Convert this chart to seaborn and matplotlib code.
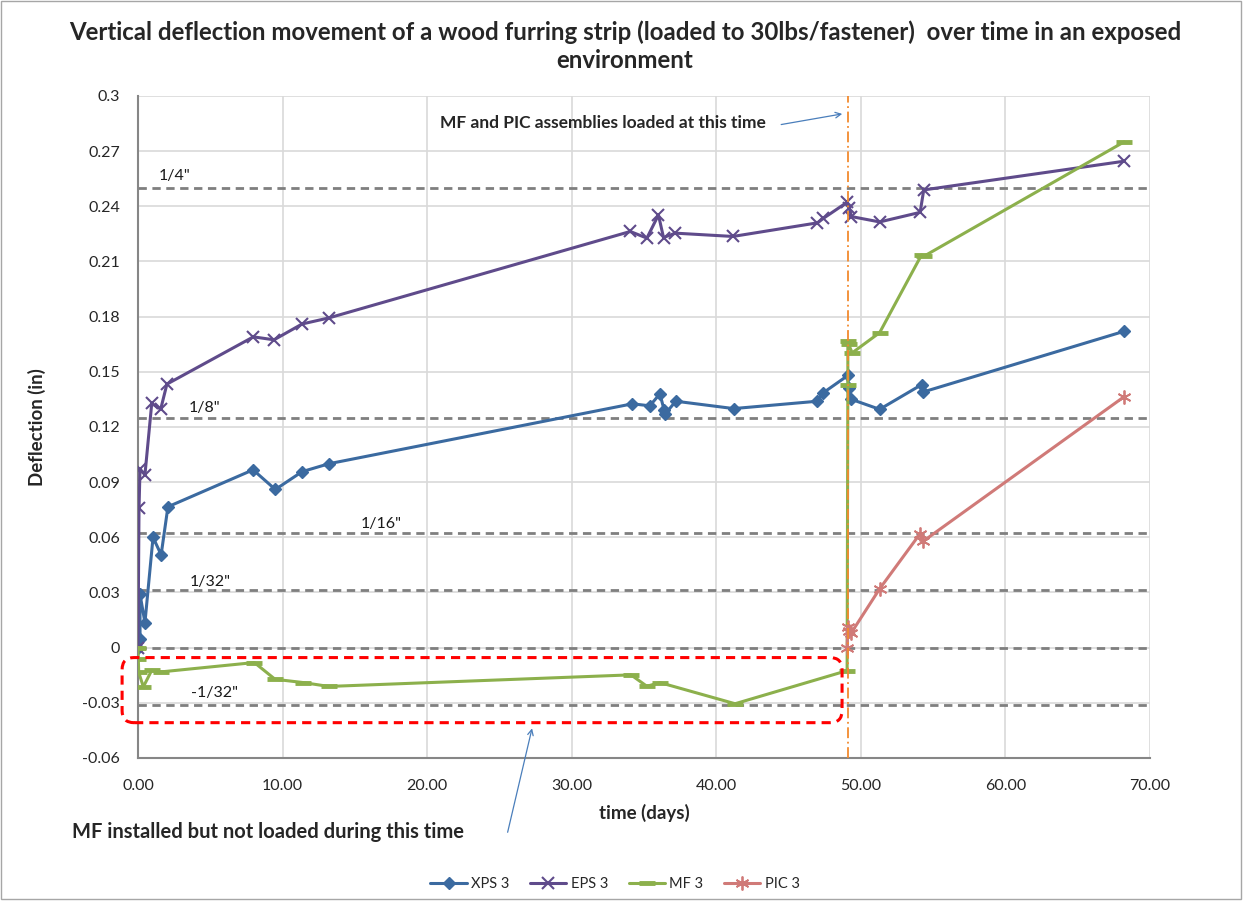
import numpy as np
import pandas as pd
import seaborn as sns
import matplotlib.pyplot as plt
from matplotlib.patches import FancyBboxPatch, Rectangle
from matplotlib.transforms import IdentityTransform
from matplotlib.ticker import MultipleLocator, FuncFormatter

# Data (time in days, deflection in inches)
xps_days = [0, 0.14, 0.14, 0.48, 1.04, 1.6, 2.07, 7.96, 9.5, 11.35, 13.2, 34.2, 35.4, 36.1,
            36.4, 36.45, 37.2, 41.2, 47.0, 47.4, 49.1, 49.15, 49.35, 51.3, 54.2, 54.3, 68.2]
xps_defl = [0, 0.0049, 0.029, 0.0136, 0.060, 0.0505, 0.0766, 0.0967, 0.086, 0.0957, 0.100,
            0.1326, 0.1315, 0.138, 0.129, 0.127, 0.134, 0.130, 0.134, 0.1386, 0.148, 0.141,
            0.135, 0.1296, 0.143, 0.139, 0.172]

eps_days = [0, 0.07, 0.14, 0.48, 0.95, 1.57, 2.0, 7.98, 9.41, 11.35, 13.2, 34.05, 35.2, 36.0,
            36.35, 37.16, 41.15, 47.0, 47.4, 49.05, 49.2, 49.35, 51.3, 54.1, 54.35, 68.2]
eps_defl = [0, 0.0757, 0.0971, 0.094, 0.1328, 0.1297, 0.1433, 0.169, 0.1674, 0.176, 0.1793,
            0.2263, 0.2227, 0.2353, 0.223, 0.2254, 0.2236, 0.231, 0.2334, 0.2422, 0.239,
            0.2344, 0.2315, 0.2367, 0.2489, 0.2645]

mf_days = [0, 0.02, 0.05, 0.37, 0.95, 1.57, 8.05, 9.48, 11.44, 13.2, 34.1, 35.2, 36.1, 41.3,
           49.05, 49.1, 49.1, 49.15, 49.4, 51.3, 54.2, 54.4, 68.2]
mf_defl = [0, -0.006, -0.0135, -0.0213, -0.0123, -0.0132, -0.0081, -0.0172, -0.019, -0.0211,
           -0.0148, -0.021, -0.019, -0.0305, -0.0125, 0.143, 0.167, 0.165, 0.1603, 0.1713,
           0.2136, 0.213, 0.275]

pic_days = [49.05, 49.1, 49.2, 49.35, 51.3, 54.1, 54.3, 68.2]
pic_defl = [0.0, 0.0114, 0.0092, 0.0082, 0.032, 0.062, 0.0578, 0.1364]

# fraction-of-inch reference lines
ref_values = [0.25, 0.125, 0.0625, 0.03125, 0, -0.03125]
ref_labels = ['1/4"', '1/8"', '1/16"', '1/32"', '', '-1/32"']
ref_label_x = [2.5, 4.6, 16.8, 5.0, 0, 5.3]
ref_label_y = [0.2565, 0.1304, 0.0675, 0.0355, 0, -0.0245]

load_day = 49.1

sns.set_style('white')
plt.rcParams['font.family'] = ['Lato', 'DejaVu Sans']

fig = plt.figure(figsize=(12.5, 9.07), dpi=100)
ax = fig.add_axes([0.1104, 0.1643, 0.8096, 0.7299])

series = [
    ('XPS 3', xps_days, xps_defl, '#3b6aa0', 'D', 6, 1),
    ('EPS 3', eps_days, eps_defl, '#5f4b8b', 'x', 8, 1.5),
    ('MF 3', mf_days, mf_defl, '#8cb04c', '_', 11, 3.5),
    ('PIC 3', pic_days, pic_defl, '#d07a78', (6, 2, 0), 10, 1.3),
]

# reference lines behind the data
for v in ref_values:
    ax.axhline(v, color='#7f7f7f', ls=(0, (3, 2)), lw=2, zorder=1)
for lab, lx, ly in zip(ref_labels, ref_label_x, ref_label_y):
    if lab:
        ax.text(lx, ly, lab, ha='center', va='center', fontsize=11.5, color='#1a1a1a')

for name, d, v, col, mk, ms, mew in series:
    df = pd.DataFrame({'time': d, 'defl': v})
    sns.lineplot(data=df, x='time', y='defl', sort=False, estimator=None, ax=ax,
                 color=col, marker=mk, markersize=ms, markeredgewidth=mew,
                 markeredgecolor=col, lw=2.2, label=name, zorder=3)

ax.axvline(load_day, color='#f28a2e', ls=(0, (6, 2, 1, 2)), lw=1.3, zorder=4)

ax.set_xlim(0, 70)
ax.set_ylim(-0.06, 0.3)
ax.xaxis.set_major_locator(MultipleLocator(10))
ax.yaxis.set_major_locator(MultipleLocator(0.03))
ax.xaxis.set_major_formatter(FuncFormatter(lambda v, _: f"{v:.2f}"))
ax.yaxis.set_major_formatter(FuncFormatter(lambda v, _: f"{round(v, 2) + 0:g}"))
ax.grid(True, color='#d9d9d9', lw=1.2)
ax.set_axisbelow(True)
for s in ['top', 'right']:
    ax.spines[s].set_visible(False)
ax.spines['left'].set_color('#868686')
ax.spines['bottom'].set_color('#868686')
ax.spines['left'].set_linewidth(1.5)
ax.spines['bottom'].set_linewidth(1.5)
ax.tick_params(axis='y', direction='out', length=5, color='#868686', labelsize=11.5, pad=8)
ax.tick_params(axis='x', direction='out', length=0, labelsize=11.5, pad=15)

ax.set_xlabel('time (days)', fontsize=13.5, fontweight='bold', labelpad=8)
ax.set_ylabel('Deflection (in)', fontsize=13.5, fontweight='bold', labelpad=26)

fig.suptitle('Vertical deflection movement of a wood furring strip (loaded to 30lbs/fastener)  over time in an exposed\nenvironment',
             fontsize=17.3, fontweight='bold', y=0.978, linespacing=1.3)

# annotation for loading time
ax.text(43.4, 0.2853, 'MF and PIC assemblies loaded at this time', ha='right', va='center',
        fontsize=12.5, fontweight='bold')
ax.annotate('', xy=(48.9, 0.2905), xytext=(44.3, 0.2842),
            arrowprops=dict(arrowstyle='->', color='#4a7ebb', lw=0.9))

# dashed box around the unloaded MF period
p0 = ax.transData.transform((-1.1, -0.0408))
p1 = ax.transData.transform((48.7, -0.0054))
box = FancyBboxPatch(tuple(p0), p1[0] - p0[0], p1[1] - p0[1],
                     boxstyle='round,pad=0,rounding_size=12', transform=IdentityTransform(),
                     fill=False, ec='#ff0000', ls=(0, (3, 2)), lw=2.2, zorder=5)
fig.add_artist(box)

fig.text(0.2144, 0.0827, 'MF installed but not loaded during this time', ha='center',
         va='center', fontsize=14.5, fontweight='bold')
ax.annotate('', xy=(27.3, -0.0424), xytext=(0.4056, 0.0794), textcoords='figure fraction',
            arrowprops=dict(arrowstyle='->', color='#4a7ebb', lw=0.9), annotation_clip=False)

leg_handles, leg_labels = ax.get_legend_handles_labels()
ax.get_legend().remove()
fig.legend(leg_handles, leg_labels, loc='center', bbox_to_anchor=(0.492, 0.025), ncol=4,
           frameon=False, fontsize=10.5, handlelength=2.5, handletextpad=0.3,
           columnspacing=1.4)

fig.add_artist(Rectangle((0.001, 0.009), 0.992, 0.99, transform=fig.transFigure,
                         fill=False, ec='#a6a6a6', lw=1))

fig.savefig('out.png', dpi=100)
